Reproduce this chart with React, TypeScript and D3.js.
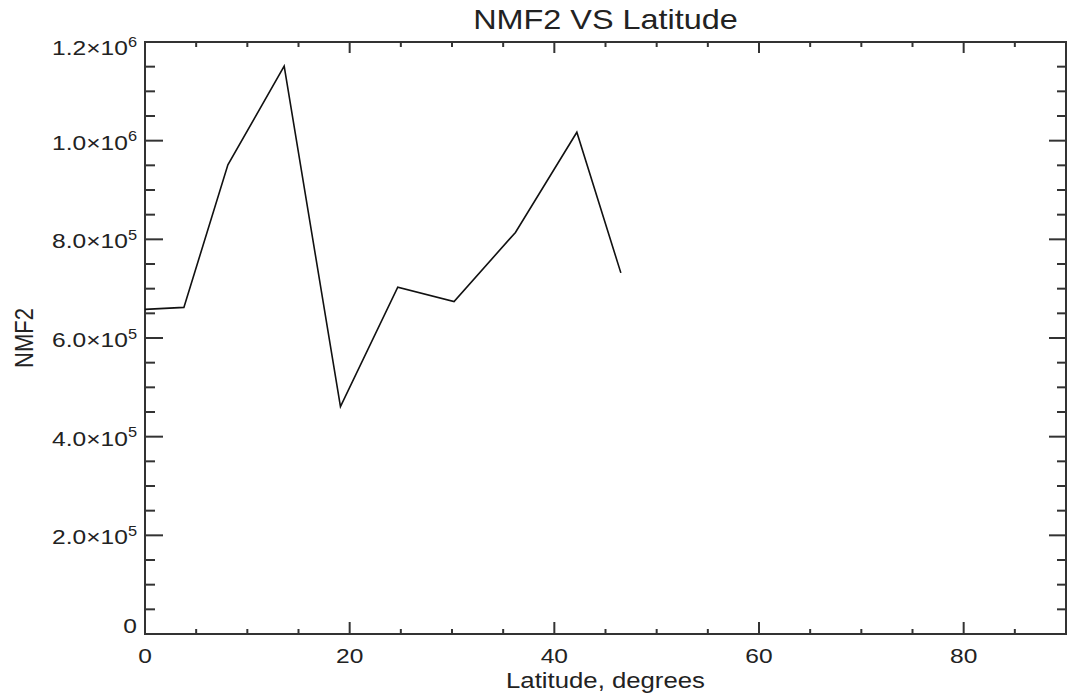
import React from "react";
import * as d3 from "d3";

const latitude = [0, 3.8, 8.1, 13.6, 19.1, 24.7, 30.2, 36.2, 42.2, 46.5];
const nmf2 = [658000, 662000, 951000, 1151000, 461000, 703000, 674000, 814000, 1017000, 732000];
const xMajorTicks = [0, 20, 40, 60, 80];
const yMajorTicks = [0, 200000, 400000, 600000, 800000, 1000000, 1200000];
const titleText = "NMF2 VS Latitude";
const xTitle = "Latitude, degrees";
const yTitle = "NMF2";

const W = 1067;
const H = 699;
const L = 145, R = 1066, T = 42, B = 634;
const FONT = "'Liberation Sans', Arial, sans-serif";
const SX = 1.17;
const AX = "#333";
const TXT = "#222";

function yLabel(v: number) {
  if (v === 0) return { base: "0", sup: "" };
  const e = Math.floor(Math.log10(v) + 1e-9);
  const m = v / Math.pow(10, e);
  return { base: m.toFixed(1) + "\u00d710", sup: String(e) };
}

export default function App() {
  const x = d3.scaleLinear().domain([0, 90]).range([L, R]);
  const y = d3.scaleLinear().domain([0, 1200000]).range([B, T]);
  const xMinor = d3.range(0, 90.001, 5).filter((v) => v % 20 !== 0);
  const yMinor = d3.range(0, 1200001, 50000).filter((v) => v % 200000 !== 0);
  const line = d3
    .line<number>()
    .x((_, i) => x(latitude[i]))
    .y((d) => y(d));
  const pts = nmf2;

  return (
    <svg
      width={W}
      height={H}
      style={{ position: "absolute", left: 0, top: 0, background: "#fff" }}
      fontFamily={FONT}
    >
      <rect x={0} y={0} width={W} height={H} fill="#fff" />
      {/* title */}
      <g transform={`translate(${(L + R) / 2},29) scale(1.2,1)`}>
        <text textAnchor="middle" fontSize={27} fill={TXT}>
          {titleText}
        </text>
      </g>
      {/* ticks */}
      <g stroke={AX} strokeWidth={2}>
        {xMajorTicks.map((v) => (
          <g key={"xm" + v}>
            <line x1={x(v)} x2={x(v)} y1={B} y2={B - 12} />
            <line x1={x(v)} x2={x(v)} y1={T} y2={T + 11} />
          </g>
        ))}
        {xMinor.map((v) => (
          <g key={"xn" + v}>
            <line x1={x(v)} x2={x(v)} y1={B} y2={B - 5} />
            <line x1={x(v)} x2={x(v)} y1={T} y2={T + 5} />
          </g>
        ))}
        {yMajorTicks.map((v) => (
          <g key={"ym" + v}>
            <line x1={L} x2={L + 18} y1={y(v)} y2={y(v)} />
            <line x1={R} x2={R - 17} y1={y(v)} y2={y(v)} />
          </g>
        ))}
        {yMinor.map((v) => (
          <g key={"yn" + v}>
            <line x1={L} x2={L + 10} y1={y(v)} y2={y(v)} />
            <line x1={R} x2={R - 9} y1={y(v)} y2={y(v)} />
          </g>
        ))}
        <rect x={L} y={T} width={R - L} height={B - T} fill="none" />
      </g>
      {/* data line */}
      <path d={line(pts) || ""} fill="none" stroke="#111" strokeWidth={1.6} strokeLinejoin="miter" />
      {/* x tick labels */}
      {xMajorTicks.map((v) => (
        <g key={"xl" + v} transform={`translate(${x(v)},663) scale(${SX},1)`}>
          <text textAnchor="middle" fontSize={21} fill={TXT}>
            {v}
          </text>
        </g>
      ))}
      {/* y tick labels */}
      {yMajorTicks.map((v) => {
        const lab = yLabel(v);
        const dy = v === 0 ? -1 : v === 1200000 ? 13 : 9;
        return (
          <g key={"yl" + v} transform={`translate(137,${y(v) + dy}) scale(${SX},1)`}>
            <text textAnchor="end" fontSize={21} fill={TXT}>
              {lab.base}
              {lab.sup && (
                <tspan fontSize={14} dy={-8.5}>
                  {lab.sup}
                </tspan>
              )}
            </text>
          </g>
        );
      })}
      {/* axis titles */}
      <g transform={`translate(${(L + R) / 2},688) scale(${SX},1)`}>
        <text textAnchor="middle" fontSize={22} fill={TXT}>
          {xTitle}
        </text>
      </g>
      <g transform={`translate(33,${(T + B) / 2}) scale(1.2,1) rotate(-90)`}>
        <text textAnchor="middle" fontSize={22} fill={TXT}>
          {yTitle}
        </text>
      </g>
    </svg>
  );
}
